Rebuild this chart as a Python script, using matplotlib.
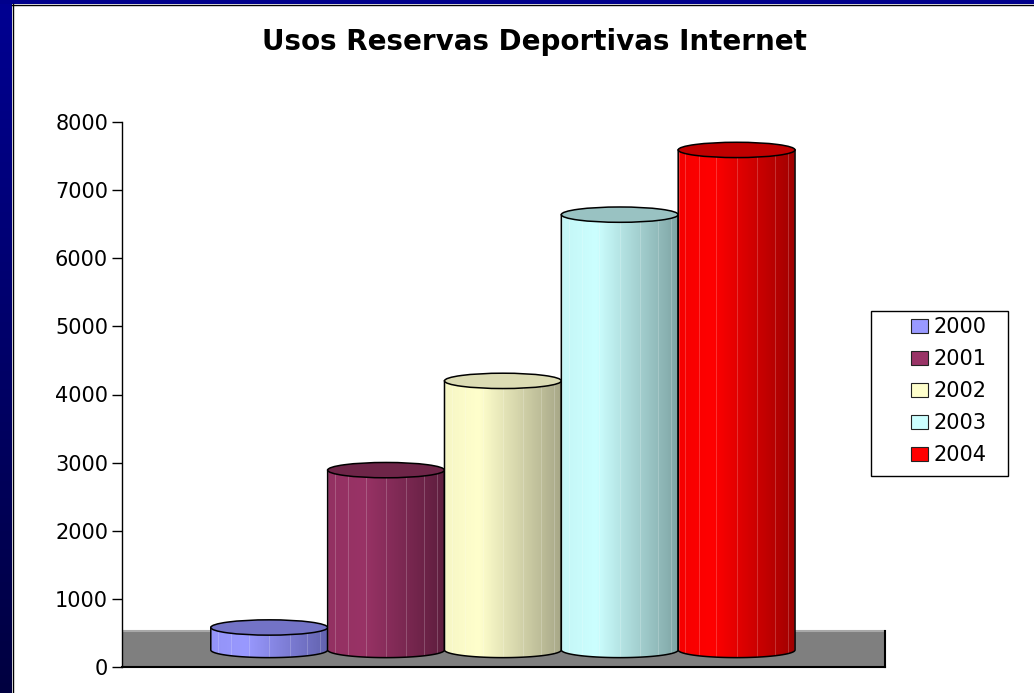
import numpy as np
import matplotlib
matplotlib.use("Agg")
import matplotlib.pyplot as plt
from matplotlib.patches import Rectangle, Ellipse, PathPatch, Patch
from matplotlib.path import Path
from matplotlib.colors import to_rgb, LinearSegmentedColormap

# -----------------------------
# DATA
# -----------------------------
years = ["2000", "2001", "2002", "2003", "2004"]
usos = [330, 2640, 3950, 6390, 7340]
face_colors = ["#9999FF", "#993366", "#FFFFCC", "#CCFFFF", "#FF0000"]
top_colors = ["#7373c6", "#6e2548", "#dcdcb4", "#99c2c2", "#c00000"]
shade_colors = ["#6262ae", "#5e1e3e", "#a8a888", "#7fa5a5", "#a00000"]
yticks = [0, 1000, 2000, 3000, 4000, 5000, 6000, 7000, 8000]

# 3D look (value units)
BASE = 250
ELL_H = 225
FLOOR_H = 530

W, H = 1034, 693
fig = plt.figure(figsize=(W / 100, H / 100), dpi=100)
fig.patch.set_facecolor("white")

# navy frame (left strip gradient + top strip)
frame_ax = fig.add_axes([0, 0, 12 / W, 1])
grad = np.linspace(0, 1, 256).reshape(-1, 1)
frame_cmap = LinearSegmentedColormap.from_list("frame", ["#000040", "#000092"])
frame_ax.imshow(grad, aspect="auto", cmap=frame_cmap, origin="lower")
frame_ax.axis("off")
fig.patches.append(Rectangle((0, 1 - 4 / H), 1, 4 / H, transform=fig.transFigure,
                             facecolor="#00008c", edgecolor="none"))
fig.lines.append(plt.Line2D([12 / W, 1], [1 - 4.5 / H, 1 - 4.5 / H], transform=fig.transFigure,
                            color="black", lw=1))
fig.lines.append(plt.Line2D([12.5 / W, 12.5 / W], [0, 1 - 4 / H], transform=fig.transFigure,
                            color="black", lw=1))

# -----------------------------
# MAIN AXES
# -----------------------------
ax = fig.add_axes([122 / W, 26 / H, (885 - 122) / W, (667 - 122) / H])
xlim = (-1.26, len(years) - 1 + 1.27)
ax.set_xlim(*xlim)
ax.set_ylim(0, 8000)
ax.patch.set_alpha(0)

# floor
ax.add_patch(Rectangle((xlim[0], 0), xlim[1] - xlim[0], FLOOR_H, facecolor="#7f7f7f",
                       edgecolor="none", zorder=1))
ax.plot([xlim[0], xlim[1]], [FLOOR_H, FLOOR_H], color="#a8a8a8", lw=1.5, zorder=1.1)
ax.plot([xlim[0], xlim[1]], [0, 0], color="black", lw=1.5, zorder=1.1, clip_on=False)
ax.plot([xlim[1], xlim[1]], [0, FLOOR_H], color="black", lw=1.5, zorder=1.1, clip_on=False)

theta = np.linspace(0, np.pi, 80)
for i, (v, fc, tc, sc) in enumerate(zip(usos, face_colors, top_colors, shade_colors)):
    cx = i
    x0, x1 = cx - 0.5, cx + 0.5
    yb, yt = BASE, BASE + v
    bx = cx + 0.5 * np.cos(theta)
    by = yb - ELL_H / 2 * np.sin(theta)
    verts = [(x0, yt), (x1, yt)] + list(zip(bx, by)) + [(x0, yt)]
    codes = [Path.MOVETO] + [Path.LINETO] * (len(verts) - 2) + [Path.CLOSEPOLY]
    body = PathPatch(Path(verts, codes), facecolor="none", edgecolor="black", lw=1.1, zorder=3 + i)
    ax.add_patch(body)

    f = np.array(to_rgb(fc))
    s = np.array(to_rgb(sc))
    cmap = LinearSegmentedColormap.from_list(
        "cyl%d" % i, [(0, f * 0.9 + s * 0.1), (0.3, f), (1, s)])
    img = ax.imshow(np.linspace(0, 1, 200).reshape(1, -1), cmap=cmap, aspect="auto",
                    extent=(x0, x1, yb - ELL_H / 2, yt), zorder=2.9 + i, interpolation="bilinear")
    img.set_clip_path(body)

    # facet lines
    for phi in np.linspace(0.15, np.pi - 0.15, 9):
        fx = cx - 0.5 * np.cos(phi)
        ln, = ax.plot([fx, fx], [yb - ELL_H / 2 * np.sin(phi), yt], color="white",
                      lw=0.7, alpha=0.2, zorder=2.95 + i)
        ln.set_clip_path(body)

    ax.add_patch(Ellipse((cx, yt), 1.0, ELL_H, facecolor=tc, edgecolor="black", lw=1.1,
                         zorder=3.05 + i))

# axis styling
for side in ["top", "right", "bottom"]:
    ax.spines[side].set_visible(False)
ax.spines["left"].set_color("black")
ax.spines["left"].set_linewidth(1)
ax.spines["left"].set_zorder(10)
ax.set_xticks([])
ax.set_yticks(yticks)
ax.set_yticklabels([str(t) for t in yticks], fontsize=15)
ax.tick_params(axis="y", direction="out", length=7, width=1, colors="black", pad=3)

# title
fig.text(534 / W, 1 - 42 / H, "Usos Reservas Deportivas Internet", ha="center", va="center",
         fontsize=20, fontweight="bold", color="black")

# legend (box drawn separately so its padding matches)
fig.patches.append(Rectangle((871 / W, 1 - 476 / H), (1008 - 871) / W, (476 - 311) / H,
                             transform=fig.transFigure, facecolor="white", edgecolor="black",
                             lw=1, zorder=5))
handles = [Patch(facecolor=c, edgecolor="#222222", lw=0.8) for c in face_colors]
leg = fig.legend(handles, years, loc="upper left", bbox_to_anchor=(911 / W, 1 - 317 / H),
                 frameon=False, fontsize=15, handlelength=0.8, handleheight=0.65,
                 labelspacing=0.58, borderpad=0, handletextpad=0.3, borderaxespad=0)
leg.set_zorder(6)

plt.savefig("out.png", dpi=100, facecolor=fig.get_facecolor())
